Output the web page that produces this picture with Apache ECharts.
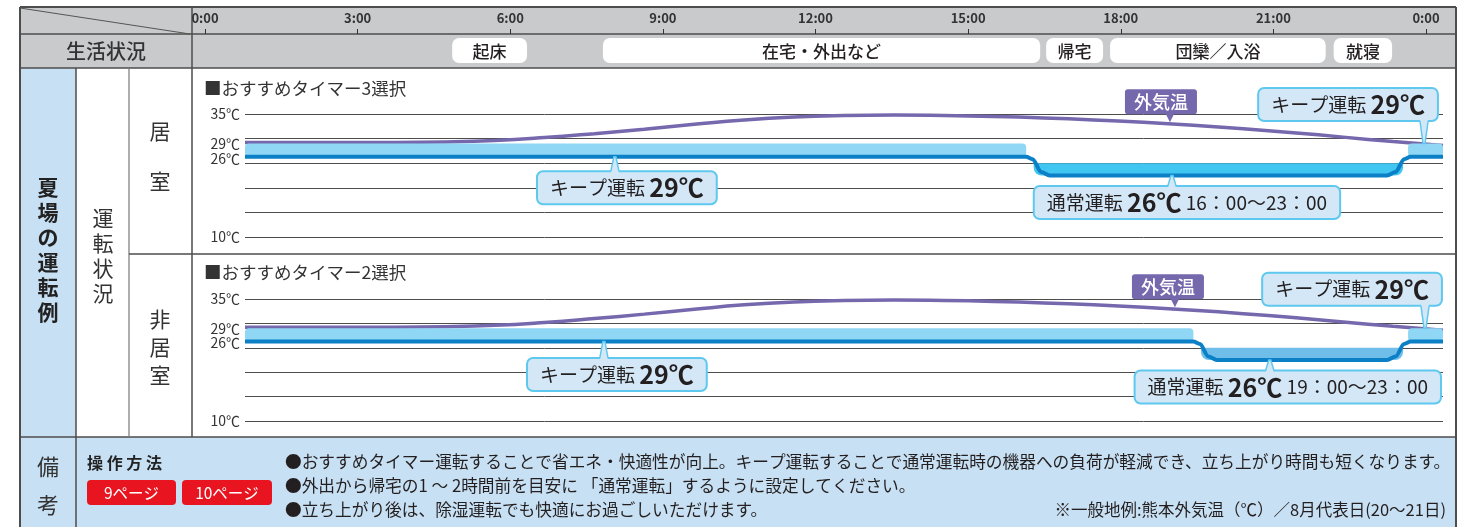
<!DOCTYPE html>
<html><head><meta charset="utf-8">
<script src="https://cdn.jsdelivr.net/npm/echarts@6/dist/echarts.min.js"></script>
<style>html,body{margin:0;padding:0;background:#fff}#c{width:1481px;height:527px}</style>
</head><body><div id="c"></div>
<script>
// ---------- data ----------
const hourTicks = [0, 3, 6, 9, 12, 15, 18, 21, 24];
const lifeEvents = ['起床', '在宅・外出など', '帰宅', '団欒／入浴', '就寝'];
const lifeStart = [4.15, 7.17, 16.05, 17.33, 21.81];
const lifeEnd   = [5.65, 15.93, 17.19, 21.65, 22.98];

const outdoorHours = [0,1,2,3,4,5,6,7,8,9,10,11,12,13,14,15,16,17,18,19,20,21,22,23,24];
const outdoorTemp  = [29.2,29.2,29.2,29.2,29.3,29.6,30.2,31.0,31.9,32.9,33.8,34.4,34.7,34.8,34.7,34.5,34.2,33.8,33.3,32.7,32.0,31.2,30.3,29.4,28.6];

const tempTicks = [35, 30, 25, 20, 15, 10];
const labeledTemps = [35, 29, 26, 10];

const keepLow = 26.3, keepHigh = 29;      // キープ運転 29℃ band
const normalLow = 22.5, normalHigh = 25;  // 通常運転 26℃ band

// 居室 (タイマー3)
const roomKeepStart = [0, 23.3];
const roomKeepEnd   = [15.65, 24];
const roomNormalStart = 15.8, roomNormalEnd = 23.2;
const roomOpHours = [0, 15.65, 15.78, 15.95, 16.12, 22.88, 23.05, 23.22, 23.35, 24];
const roomOpTemp  = [26.3, 26.3, 25.8, 23.2, 22.5, 22.5, 23.2, 25.8, 26.3, 26.3];

// 非居室 (タイマー2)
const nonKeepStart = [0, 23.3];
const nonKeepEnd   = [19.0, 24];
const nonNormalStart = 19.15, nonNormalEnd = 23.2;
const nonOpHours = [0, 19.0, 19.13, 19.3, 19.47, 22.88, 23.05, 23.22, 23.35, 24];
const nonOpTemp  = [26.3, 26.3, 25.8, 23.2, 22.5, 22.5, 23.2, 25.8, 26.3, 26.3];

// ---------- styling ----------
const FONT = '"Noto Sans CJK JP", "Noto Sans", sans-serif';
const W = 1481;
const CX0 = 245, CX1 = 1443;
const LINE = '#4d4d4d', GRAY = '#c9cacb', BLUE = '#c8e0f3';
const BAND = '#8fd7f5', OPLINE = '#0b80c6', PURPLE = '#7568ad';
const BOXFILL = '#d3e7f6', BOXLINE = '#5ec8ef';

const chart = echarts.init(document.getElementById('c'), null, {renderer: 'canvas'});

function pairs(xs, ys) { return xs.map((x, i) => [x, ys[i]]); }

function bandSeries(gi, starts, ends, low, high, fill, radius, z) {
  return {
    type: 'custom', xAxisIndex: gi, yAxisIndex: gi === 2 ? 2 : 4, z: z, silent: true,
    encode: {x: [0, 1]},
    data: starts.map((s, i) => [s, ends[i]]),
    renderItem(params, api) {
      const a = api.coord([api.value(0), high]);
      const b = api.coord([api.value(1), low]);
      return {type: 'rect', shape: {x: a[0], y: a[1], width: b[0] - a[0], height: b[1] - a[1], r: radius},
        style: {fill: fill}};
    }
  };
}

function tempAxes(gi) {
  return [
    {gridIndex: gi, type: 'value', min: 10, max: 35, interval: 5, position: 'left',
      axisLine: {show: false}, axisTick: {show: false},
      splitLine: {show: true, lineStyle: {color: LINE, width: 1}},
      axisLabel: {margin: 5, fontSize: 14, color: '#333', fontFamily: FONT,
        formatter: v => (labeledTemps.includes(v) ? v + '℃' : '')}},
    {gridIndex: gi, type: 'value', min: 10, max: 35, interval: 1, position: 'left', offset: 0,
      axisLine: {show: false}, axisTick: {show: false}, splitLine: {show: false},
      axisLabel: {margin: 5, fontSize: 14, color: '#333', fontFamily: FONT,
        formatter: v => ((v === 29 || v === 26) ? v + '℃' : '')}}
  ];
}

const option = {
  animation: false,
  grid: [
    {left: 205, right: W - 1426, top: 7, height: 27},
    {left: CX0, right: W - CX1, top: 38, height: 25},
    {left: CX0, right: W - CX1, top: 114, height: 123},
    {left: CX0, right: W - CX1, top: 299, height: 122}
  ],
  xAxis: [
    {gridIndex: 0, type: 'value', min: 0, max: 24, interval: 3, position: 'bottom', z: 5,
      axisLine: {show: false}, splitLine: {show: false},
      axisTick: {show: true, inside: true, length: 5, lineStyle: {color: '#333', width: 1}},
      axisLabel: {inside: true, margin: 9, fontSize: 13, fontWeight: 'bold', color: '#333', fontFamily: FONT,
        showMinLabel: true, showMaxLabel: true, formatter: v => (hourTicks.includes(v) ? (v % 24) + ':00' : '')}},
    {gridIndex: 1, type: 'value', min: 0, max: 24, show: false},
    {gridIndex: 2, type: 'value', min: 0, max: 24, show: false},
    {gridIndex: 3, type: 'value', min: 0, max: 24, show: false}
  ],
  yAxis: [
    {gridIndex: 0, type: 'value', min: 0, max: 1, show: false},
    {gridIndex: 1, type: 'value', min: 0, max: 1, show: false},
    ...tempAxes(2),
    ...tempAxes(3)
  ],
  series: [
    { // life events
      type: 'custom', xAxisIndex: 1, yAxisIndex: 1, z: 3, silent: true,
      encode: {x: [0, 1]},
      data: lifeStart.map((s, i) => [s, lifeEnd[i], i]),
      renderItem(params, api) {
        const a = api.coord([api.value(0), 1]);
        const b = api.coord([api.value(1), 0]);
        return {type: 'group', children: [
          {type: 'rect', shape: {x: a[0], y: a[1], width: b[0] - a[0], height: b[1] - a[1], r: 7}, style: {fill: '#fff'}},
          {type: 'text', x: (a[0] + b[0]) / 2, y: (a[1] + b[1]) / 2 + 1,
            style: {text: lifeEvents[api.value(2)], align: 'center', verticalAlign: 'middle',
              font: '500 17px ' + FONT, fill: '#231f20'}}
        ]};
      }
    },
    // 居室
    {type: 'line', xAxisIndex: 2, yAxisIndex: 2, z: 2, smooth: true, showSymbol: false, silent: true,
      lineStyle: {color: PURPLE, width: 3.5}, data: pairs(outdoorHours, outdoorTemp)},
    bandSeries(2, roomKeepStart, roomKeepEnd, keepLow, keepHigh, BAND, 4, 3),
    bandSeries(2, [roomNormalStart], [roomNormalEnd], normalLow, normalHigh, '#41c5f1', [0, 0, 8, 8], 3),
    {type: 'line', xAxisIndex: 2, yAxisIndex: 2, z: 4, smooth: 0.3, smoothMonotone: 'x', showSymbol: false, silent: true,
      lineStyle: {color: OPLINE, width: 4}, data: pairs(roomOpHours, roomOpTemp)},
    // 非居室
    {type: 'line', xAxisIndex: 3, yAxisIndex: 4, z: 2, smooth: true, showSymbol: false, silent: true,
      lineStyle: {color: PURPLE, width: 3.5}, data: pairs(outdoorHours, outdoorTemp)},
    bandSeries(3, nonKeepStart, nonKeepEnd, keepLow, keepHigh, BAND, 4, 3),
    bandSeries(3, [nonNormalStart], [nonNormalEnd], normalLow, normalHigh, '#6fbee9', [0, 0, 8, 8], 3),
    {type: 'line', xAxisIndex: 3, yAxisIndex: 4, z: 4, smooth: 0.3, smoothMonotone: 'x', showSymbol: false, silent: true,
      lineStyle: {color: OPLINE, width: 4}, data: pairs(nonOpHours, nonOpTemp)}
  ]
};
chart.setOption(option);

// ---------- table frame & texts ----------
const g = [];
function rect(x, y, w, h, fill, z, r) { g.push({type: 'rect', z: z, shape: {x, y, width: w, height: h, r: r || 0}, style: {fill}}); }
function line(x1, y1, x2, y2, w, c) { g.push({type: 'line', z: -5, shape: {x1, y1, x2, y2}, style: {stroke: c || LINE, lineWidth: w || 1.5}}); }
function text(t, x, y, font, fill, align, z, extra) {
  g.push({type: 'text', z: z || 1, x, y, style: Object.assign({text: t, font, fill: fill || '#333', align: align || 'center', verticalAlign: 'middle'}, extra || {})});
}
rect(20, 7, 1436, 61, GRAY, -10);
rect(20, 68, 56, 369, BLUE, -10);
rect(20, 437, 1436, 100, BLUE, -10);

line(20, 7, 1456, 7, 2);
line(20, 7, 20, 527, 2);
line(1456, 7, 1456, 527, 2);
line(20, 34, 1456, 34, 1.5);
line(20, 68, 1456, 68, 1.5);
line(20, 437, 1456, 437, 1.5);
line(192, 7, 192, 437, 1.5);
line(76, 68, 76, 527, 1.5);
line(129, 68, 129, 437, 1.2, '#777');
line(129, 254, 1456, 254, 1.5);
line(20, 8, 190, 34, 1, '#555');

text('生活状況', 106, 51, '500 20px ' + FONT, '#333');
text('夏\n場\nの\n運\n転\n例', 48, 250, 'bold 21px ' + FONT, '#222', 'center', 1, {lineHeight: 25});
text('運\n転\n状\n況', 103, 256, '21px ' + FONT, '#333', 'center', 1, {lineHeight: 25});
text('居', 160, 131, '21px ' + FONT, '#333');
text('室', 160, 181, '21px ' + FONT, '#333');
text('非\n居\n室', 160, 347, '21px ' + FONT, '#333', 'center', 1, {lineHeight: 28});
text('■おすすめタイマー3選択', 204, 88, '17.5px ' + FONT, '#333', 'left');
text('■おすすめタイマー2選択', 204, 272, '17.5px ' + FONT, '#333', 'left');

text('備', 48, 467, '22px ' + FONT, '#333');
text('考', 48, 505, '22px ' + FONT, '#333');
text('操 作 方 法', 87, 463, 'bold 16px ' + FONT, '#222', 'left');
rect(87, 480, 89, 25, '#e8141f', 1, 4);
rect(182, 480, 90, 25, '#e8141f', 1, 4);
text('9ページ', 131.5, 493, '15.5px ' + FONT, '#fff', 'center', 2);
text('10ページ', 227, 493, '15.5px ' + FONT, '#fff', 'center', 2);
text('●おすすめタイマー運転することで省エネ・快適性が向上。キープ運転することで通常運転時の機器への負荷が軽減でき、立ち上がり時間も短くなります。', 285, 462, '16.7px ' + FONT, '#231f20', 'left');
text('●外出から帰宅の1 ～ 2時間前を目安に 「通常運転」するように設定してください。', 285, 486, '16.7px ' + FONT, '#231f20', 'left');
text('●立ち上がり後は、除湿運転でも快適にお過ごしいただけます。', 285, 510, '16.7px ' + FONT, '#231f20', 'left');
text('※一般地例:熊本外気温（℃）／8月代表日(20～21日)', 1446, 510, '16.5px ' + FONT, '#231f20', 'right');

// ---------- callouts (anchored to data points) ----------
const callouts = [
  {grid: 2, tip: [7.41, 26.3], kind: 'keep', side: 'below', gap: 14, dx: 12},
  {grid: 2, tip: [18.57, 22.5], kind: 'normal', time: '16：00～23：00', side: 'below', gap: 10, dx: 15},
  {grid: 2, tip: [18.53, 33.3], kind: 'outdoor', side: 'above', gap: 8, dx: -9},
  {grid: 2, tip: [23.62, 29], kind: 'keep', side: 'above', gap: 22, dx: -76},
  {grid: 3, tip: [7.19, 26.3], kind: 'keep', side: 'below', gap: 16, dx: 13},
  {grid: 3, tip: [20.53, 22.5], kind: 'normal', time: '19：00～23：00', side: 'below', gap: 10, dx: 18},
  {grid: 3, tip: [18.63, 33.3], kind: 'outdoor', side: 'above', gap: 8, dx: -7},
  {grid: 3, tip: [23.64, 29], kind: 'keep', side: 'above', gap: 22, dx: -73}
];
const rich = {
  a: {fontSize: 19, fontFamily: FONT, fill: '#231f20', lineHeight: 25},
  b: {fontSize: 25, fontFamily: FONT, fontWeight: 'bold', fill: '#231f20', lineHeight: 25},
  c: {fontSize: 19, fontFamily: FONT, fill: '#231f20', lineHeight: 25}
};
callouts.forEach(c => {
  const p = chart.convertToPixel({gridIndex: c.grid}, c.tip);
  const outdoor = c.kind === 'outdoor';
  const H = outdoor ? 25 : 34;
  const sign = c.side === 'below' ? 1 : -1;
  const cy = p[1] + sign * (c.gap + H / 2);
  const cx = p[0] + c.dx;
  const edge = p[1] + sign * c.gap;
  let txt;
  if (c.kind === 'keep') txt = '{a|キープ運転 }{b|29℃}';
  else if (c.kind === 'normal') txt = '{a|通常運転 }{b|26℃}{c| ' + c.time + '}';
  if (outdoor) {
    g.push({type: 'text', z: 100, x: cx, y: cy, style: {text: '外気温', font: '500 18px ' + FONT, fill: '#fff',
      align: 'center', verticalAlign: 'middle', backgroundColor: PURPLE, borderRadius: 3, padding: [1, 9], lineHeight: 23}});
    g.push({type: 'polygon', z: 101, shape: {points: [[p[0] - 5, edge - 2], [p[0] + 5, edge - 2], [p[0], p[1]]]}, style: {fill: PURPLE}});
  } else {
    g.push({type: 'text', z: 100, x: cx, y: cy, style: {text: txt, rich: rich, align: 'center', verticalAlign: 'middle',
      backgroundColor: BOXFILL, borderColor: BOXLINE, borderWidth: 2, borderRadius: 5, padding: [3, 12]}});
    const e2 = edge + sign * 3;
    g.push({type: 'polygon', z: 101, shape: {points: [[p[0] - 4, e2], [p[0] + 4, e2], [p[0] + 1, p[1]], [p[0] - 1, p[1]]]}, style: {fill: BOXFILL}});
    g.push({type: 'polyline', z: 102, shape: {points: [[p[0] - 4, edge], [p[0] - 1, p[1]], [p[0] + 1, p[1]], [p[0] + 4, edge]]}, style: {stroke: BOXLINE, lineWidth: 1.5, fill: null}});
  }
});
chart.setOption({graphic: {elements: g}});
</script>
</body></html>
